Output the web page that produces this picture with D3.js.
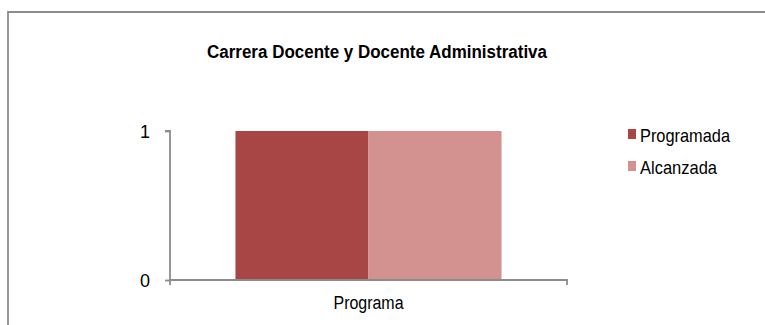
<!DOCTYPE html>
<html>
<head>
<meta charset="utf-8">
<script src="https://cdn.jsdelivr.net/npm/d3@7"></script>
<style>
  html, body { margin: 0; padding: 0; background: #fff; overflow: hidden; width: 765px; height: 325px; }
  svg { display: block; overflow: hidden; font-family: "Liberation Sans", Arial, sans-serif; }
</style>
</head>
<body>
<svg id="chart" width="765" height="325"></svg>
<script>
const categories = ["Programa"];
const seriesNames = ["Programada", "Alcanzada"];
const programada = [1];
const alcanzada = [1];
const yTicks = [0, 1];
const colors = ["#A84645", "#D39190"];
const title = "Carrera Docente y Docente Administrativa";

const svg = d3.select("#chart");

svg.append("rect").attr("x", 0).attr("y", 0).attr("width", 765).attr("height", 325).attr("fill", "#fff");

// outer frame: left and top edges only (chart continues past right and bottom)
svg.append("line").attr("x1", 8).attr("y1", 12).attr("x2", 8).attr("y2", 325)
  .attr("stroke", "#8c8c8c").attr("stroke-width", 1.8);
svg.append("line").attr("x1", 7.1).attr("y1", 12).attr("x2", 765).attr("y2", 12)
  .attr("stroke", "#8c8c8c").attr("stroke-width", 1.8);

// title
svg.append("text")
  .attr("x", 207).attr("y", 58)
  .attr("textLength", 340).attr("lengthAdjust", "spacingAndGlyphs")
  .attr("font-size", 17.5).attr("font-weight", "bold").attr("fill", "#000")
  .text(title);

const x0 = 170, x1 = 567, yTop = 131, yBot = 280;
const x = d3.scaleBand().domain(categories).range([x0, x1]).paddingInner(0).paddingOuter(0.246);
const xs = d3.scaleBand().domain(seriesNames).range([0, x.bandwidth()]).padding(0);
const y = d3.scaleLinear().domain([0, 1]).range([yBot, yTop]);

const data = categories.map((c, i) => ({ cat: c, values: [programada[i], alcanzada[i]] }));

const g = svg.append("g");
g.selectAll("g.cat").data(data).join("g")
  .attr("class", "cat")
  .attr("transform", d => `translate(${x(d.cat)},0)`)
  .selectAll("rect").data(d => d.values.map((v, j) => ({ s: seriesNames[j], v, j })))
  .join("rect")
  .attr("x", d => xs(d.s))
  .attr("y", d => y(d.v))
  .attr("width", xs.bandwidth())
  .attr("height", d => y(0) - y(d.v))
  .attr("fill", d => colors[d.j]);

// y axis
const yAxis = d3.axisLeft(y).tickValues(yTicks).tickFormat(d3.format("d")).tickSize(5).tickPadding(15);
const ya = svg.append("g").attr("transform", `translate(${x0},0)`).call(yAxis);
ya.select(".domain").attr("stroke", "#8c8c8c").attr("stroke-width", 1.8).attr("d", `M-5,${yTop}H0V${yBot}`);
ya.selectAll(".tick line").attr("stroke", "#8c8c8c").attr("stroke-width", 1.8);
ya.selectAll(".tick text").attr("font-size", 18).attr("fill", "#000")
  .attr("font-family", "Liberation Sans, Arial, sans-serif")
  .attr("dy", "0.36em");

// x axis
const xAxis = d3.axisBottom(x).tickSize(0).tickPadding(16);
const xa = svg.append("g").attr("transform", `translate(0,${yBot})`).call(xAxis);
xa.select(".domain").attr("stroke", "#8c8c8c").attr("stroke-width", 1.8)
  .attr("d", `M${x0},5V0H${x1}V5`);
xa.selectAll(".tick text").attr("font-size", 18).attr("fill", "#000")
  .attr("font-family", "Liberation Sans, Arial, sans-serif")
  .attr("textLength", 70).attr("lengthAdjust", "spacingAndGlyphs");

// legend
const legWidths = [90, 77];
const leg = svg.append("g").attr("transform", "translate(628,129)");
seriesNames.forEach((s, i) => {
  const row = leg.append("g").attr("transform", `translate(0,${i * 32})`);
  row.append("rect").attr("x", 0).attr("y", 0).attr("width", 8).attr("height", 10).attr("fill", colors[i]);
  row.append("text").attr("x", 12).attr("y", 13).attr("font-size", 18.5).attr("fill", "#000")
    .attr("textLength", legWidths[i]).attr("lengthAdjust", "spacingAndGlyphs").text(s);
});
</script>
</body>
</html>
